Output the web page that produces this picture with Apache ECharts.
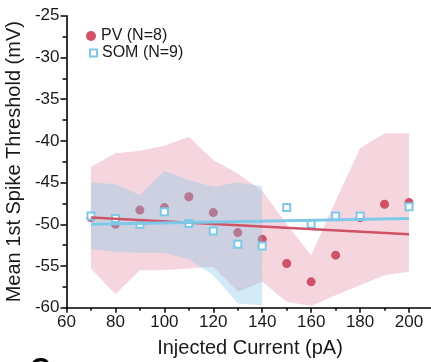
<!DOCTYPE html>
<html>
<head>
<meta charset="utf-8">
<script src="https://cdn.jsdelivr.net/npm/echarts@6/dist/echarts.min.js"></script>
<style>
  html, body { margin: 0; padding: 0; background: #fff; }
  #chart { width: 431px; height: 362px; }
</style>
</head>
<body>
<div id="chart"></div>
<script>
// injected current steps (pA)
const currents = [70, 80, 90, 100, 110, 120, 130, 140, 150, 160, 170, 180, 190, 200];

// PV mean threshold per step (mV) and shaded band
const pvMean = [-49.2, -50.0, -48.3, -48.0, -46.7, -48.6, -51.0, -51.8, -54.7, -56.9, -53.7, -49.2, -47.6, -47.4];
const pvUpper = [-43.1, -41.5, -41.2, -40.6, -39.5, -42.3, -43.9, -46.0, -50.0, -53.7, -47.2, -40.9, -39.1, -39.1];
const pvLower = [-55.3, -58.4, -55.5, -55.5, -55.3, -55.1, -58.1, -56.9, -59.3, -59.8, -58.5, -57.3, -56.1, -55.7];

// SOM mean (no point at 190)
const somMean = [-49.0, -49.3, -50.0, -48.5, -49.9, -50.8, -52.4, -52.6, -48.0, -50.0, -49.0, -49.0, null, -47.9];
// SOM band only covers 70..140
const somBandX = [70, 80, 90, 100, 110, 120, 130, 140];
const somUpper = [-45.0, -45.2, -46.5, -43.6, -44.7, -45.5, -45.0, -45.4];
const somLower = [-53.0, -53.3, -53.4, -53.4, -54.2, -56.1, -59.5, -59.7];

// linear fits, ends at 70 and 200
const fitX = [70, 200];
const pvFit = [-49.2, -51.2];
const somFit = [-50.0, -49.3];

const xTicks = [60, 80, 100, 120, 140, 160, 180, 200];
const yTicks = [-60, -55, -50, -45, -40, -35, -30, -25];

const PV_COLOR = '#cf5267';
const SOM_COLOR = '#7ec8e8';
const FONT = 'Liberation Sans, Arial, sans-serif';

const chart = echarts.init(document.getElementById('chart'), null, { renderer: 'canvas' });

function band(xs, up, lo, fill, z) {
  return {
    type: 'custom',
    z,
    silent: true,
    data: [[xs[0], up[0]]],
    renderItem: (params, api) => {
      const top = xs.map((x, i) => api.coord([x, up[i]]));
      const bottom = xs.map((x, i) => api.coord([x, lo[i]])).reverse();
      return { type: 'polygon', shape: { points: top.concat(bottom) }, style: { fill } };
    },
  };
}

const pair = (xs, ys) => xs.map((x, i) => [x, ys[i]]).filter((p) => p[1] !== null);

const axisLine = { show: true, lineStyle: { color: '#000', width: 1.6 } };

chart.setOption({
  animation: false,
  backgroundColor: '#fff',
  textStyle: { fontFamily: FONT },
  grid: { left: 66.5, top: 15.7, right: -2.5, bottom: 54.3, outerBoundsMode: 'none' },
  legend: [
    {
      left: 81, top: 23,
      selectedMode: false,
      itemWidth: 10, itemHeight: 10, itemGap: 4,
      textStyle: { fontFamily: FONT, fontSize: 16, color: '#1a1a1a' },
      data: [{ name: 'PV (N=8)', icon: 'circle', itemStyle: { color: PV_COLOR } }],
    },
    {
      left: 84, top: 40,
      selectedMode: false,
      itemWidth: 7, itemHeight: 7,
      textStyle: { fontFamily: FONT, fontSize: 16, color: '#1a1a1a' },
      data: [{ name: 'SOM (N=9)', icon: 'rect', itemStyle: { color: '#fff', borderColor: SOM_COLOR, borderWidth: 2 } }],
    },
  ],
  xAxis: [
    {
      type: 'value',
      min: 60, max: 210, interval: 20,
      name: 'Injected Current (pA)',
      nameLocation: 'middle',
      nameGap: 31,
      nameTextStyle: { fontFamily: FONT, fontSize: 20, color: '#1a1a1a' },
      axisLine,
      axisTick: { show: true, length: 5, lineStyle: { color: '#000', width: 1.5 } },
      axisLabel: {
        fontFamily: FONT, fontSize: 17, color: '#1a1a1a', margin: 6, showMaxLabel: false,
        formatter: (v) => (xTicks.includes(v) ? String(v) : ''),
      },
      splitLine: { show: false },
    },
    {
      // minor ticks every 10 pA
      type: 'value',
      position: 'bottom',
      min: 60, max: 210, interval: 10,
      axisLine: { show: false },
      axisTick: { show: true, length: 3, lineStyle: { color: '#000', width: 1.5 } },
      axisLabel: { show: false },
      splitLine: { show: false },
    },
  ],
  yAxis: {
    type: 'value',
    min: -60, max: -25, interval: 5,
    name: 'Mean 1st Spike Threshold (mV)',
    nameLocation: 'middle',
    nameGap: 38,
    nameTextStyle: { fontFamily: FONT, fontSize: 20, color: '#1a1a1a' },
    axisLine,
    axisTick: { show: true, length: 6, lineStyle: { color: '#000', width: 1.5 } },
    minorTick: { show: true, splitNumber: 2, length: 4, lineStyle: { color: '#000', width: 1.5 } },
    axisLabel: {
      fontFamily: FONT, fontSize: 17, color: '#1a1a1a', margin: 7,
      formatter: (v) => (yTicks.includes(v) ? String(v) : ''),
    },
    splitLine: { show: false },
  },
  graphic: [
    { type: 'text', left: 30, top: 355, style: { text: 'C', fontFamily: FONT, fontSize: 28, fontWeight: 'bold', fill: '#000' } },
  ],
  series: [
    band(currents, pvUpper, pvLower, 'rgba(222,120,145,0.3)', 1),
    {
      name: 'PV (N=8)',
      type: 'scatter',
      z: 2,
      symbol: 'circle',
      symbolSize: 9,
      itemStyle: { color: PV_COLOR, opacity: 1 },
      data: pair(currents, pvMean),
    },
    band(somBandX, somUpper, somLower, 'rgba(130,197,230,0.35)', 3),
    {
      name: 'SOM (N=9)',
      type: 'scatter',
      z: 4,
      symbol: 'rect',
      symbolSize: 7,
      itemStyle: { color: '#fff', borderColor: SOM_COLOR, borderWidth: 2, opacity: 1 },
      data: pair(currents, somMean),
    },
    {
      type: 'line',
      z: 5,
      symbol: 'none',
      lineStyle: { color: PV_COLOR, width: 2.5 },
      data: pair(fitX, pvFit),
    },
    {
      type: 'line',
      z: 5,
      symbol: 'none',
      lineStyle: { color: SOM_COLOR, width: 3 },
      data: pair(fitX, somFit),
    },
  ],
});
</script>
</body>
</html>
